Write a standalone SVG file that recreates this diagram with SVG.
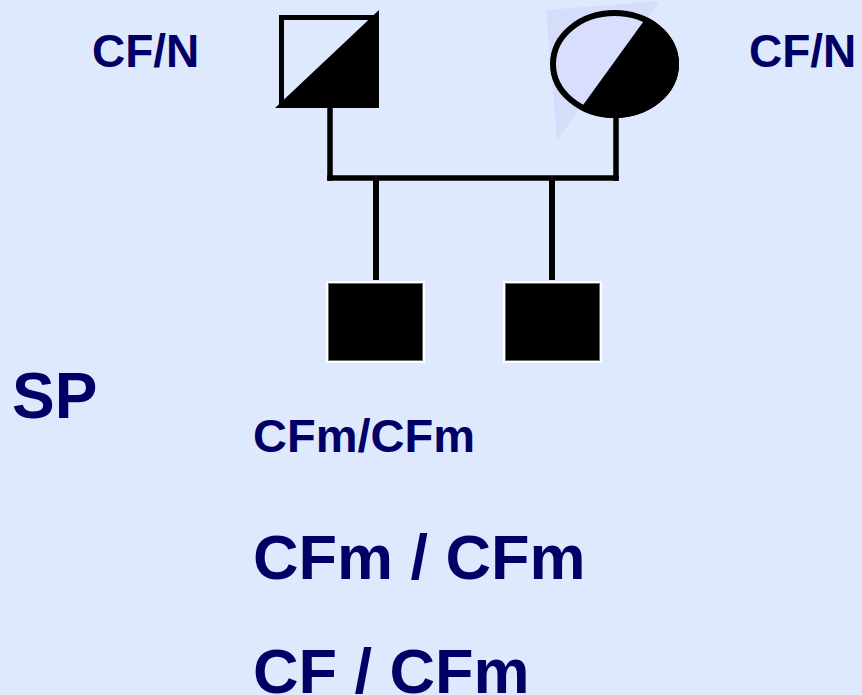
<svg xmlns="http://www.w3.org/2000/svg" width="862" height="695" viewBox="0 0 862 695">
  <style>
    .lbl { font-family: "Liberation Sans", Arial, sans-serif; font-weight: bold; fill: #000066; }
    .line { stroke: #000; stroke-width: 5.5; fill: none; stroke-linecap: square; }
    .child { fill: #000; stroke: #6a6a6a; stroke-width: 1; }
    .halo { fill: #fff; }
  </style>
  <defs>
    <clipPath id="ellClip">
      <ellipse cx="614.5" cy="64" rx="64.5" ry="54"/>
    </clipPath>
  </defs>
  <rect x="0" y="0" width="862" height="695" fill="#DFE9FD"/>

  <g id="connectors">
    <line class="line" x1="330" y1="108" x2="330" y2="178"/>
    <line class="line" x1="616" y1="118" x2="616" y2="178"/>
    <line class="line" x1="330" y1="178" x2="616" y2="178"/>
    <line x1="376" y1="178" x2="376" y2="280" stroke="#000" stroke-width="6"/>
    <line x1="552" y1="178" x2="552" y2="280" stroke="#000" stroke-width="6"/>
  </g>

  <g id="father">
    <rect x="281.5" y="17.5" width="95" height="88" fill="#DFE9FD" stroke="#000" stroke-width="5"/>
    <polygon points="275,108 379,10 379,108" fill="#000"/>
  </g>

  <g id="mother">
    <polygon points="546,10 660,1 557,140" fill="#D6DDFB"/>
    <ellipse cx="614.5" cy="64" rx="61.5" ry="51" fill="#D8DEFC" stroke="#000" stroke-width="6"/>
    <polygon points="659,0 700,0 700,130 565,130" fill="#000" clip-path="url(#ellClip)"/>
  </g>

  <g id="child1">
    <rect class="halo" x="326" y="281" width="99" height="82"/>
    <rect class="child" x="328.5" y="283.5" width="94" height="77"/>
  </g>
  <g id="child2">
    <rect class="halo" x="503" y="281" width="99" height="82"/>
    <rect class="child" x="505.5" y="283.5" width="94" height="77"/>
  </g>

  <g id="labels">
    <text class="lbl" x="92" y="67" font-size="46">CF/N</text>
    <text class="lbl" x="749" y="67" font-size="46">CF/N</text>
    <text class="lbl" x="12" y="418" font-size="64">SP</text>
    <text class="lbl" x="253" y="452" font-size="47">CFm/CFm</text>
    <text class="lbl" x="253" y="579" font-size="63">CFm / CFm</text>
    <text class="lbl" x="253" y="693" font-size="63">CF / CFm</text>
  </g>
</svg>
